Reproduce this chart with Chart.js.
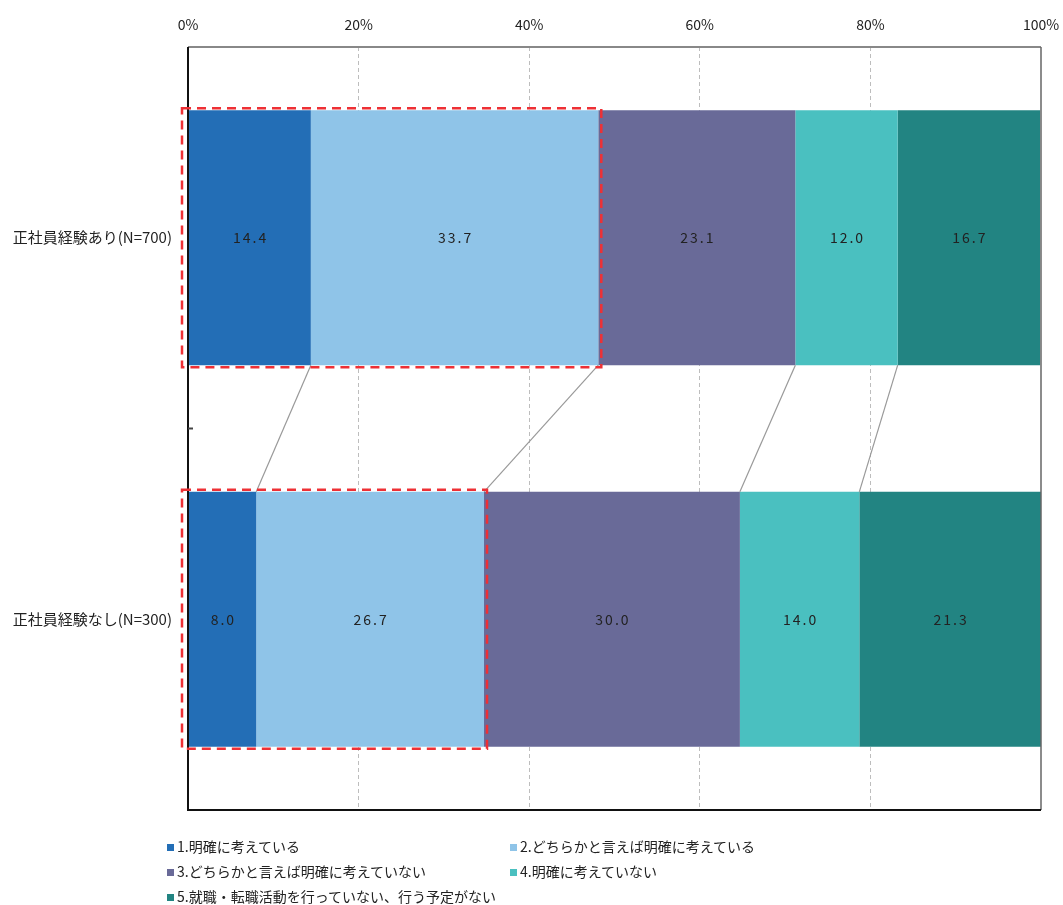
<!DOCTYPE html>
<html>
<head>
<meta charset="utf-8">
<script src="https://cdn.jsdelivr.net/npm/chart.js@4"></script>
<style>
  body { margin: 0; background: #fff; }
  #wrap { position: relative; width: 1063px; height: 905px; }
  #legend { position: absolute; left: 167px; top: 836px; width: 880px;
    font: 14px "Noto Sans CJK JP", sans-serif; color: #222; }
  .item { position: absolute; white-space: nowrap; line-height: 20px; }
  .item i { display: inline-block; width: 7px; height: 7px; margin-right: 3px; vertical-align: 1px; }
</style>
</head>
<body>
<div id="wrap">
  <canvas id="chart" width="1063" height="905"></canvas>
  <div id="legend"></div>
</div>
<script>
// data
const categories = ['正社員経験あり(N=700)', '正社員経験なし(N=300)'];
const seriesNames = [
  '1.明確に考えている',
  '2.どちらかと言えば明確に考えている',
  '3.どちらかと言えば明確に考えていない',
  '4.明確に考えていない',
  '5.就職・転職活動を行っていない、行う予定がない'
];
const clearYes = [14.4, 8.0];
const ratherYes = [33.7, 26.7];
const ratherNo = [23.1, 30.0];
const clearNo = [12.0, 14.0];
const noPlan = [16.7, 21.3];
const xTicks = [0, 20, 40, 60, 80, 100];

const colors = ['#236eb6', '#8fc4e8', '#696a98', '#4ac0c0', '#228482'];
const allSeries = [clearYes, ratherYes, ratherNo, clearNo, noPlan];
const FONT = '"Noto Sans CJK JP", sans-serif';

// legend, 2 columns like the original
const legendPos = [[0, 0], [343, 0], [0, 25], [343, 25], [0, 50]];
const legendEl = document.getElementById('legend');
seriesNames.forEach(function (name, i) {
  const d = document.createElement('div');
  d.className = 'item';
  d.style.left = legendPos[i][0] + 'px';
  d.style.top = legendPos[i][1] + 'px';
  d.innerHTML = '<i style="background:' + colors[i] + '"></i>' + name;
  legendEl.appendChild(d);
});

const overlay = {
  id: 'overlay',
  afterDatasetsDraw(chart) {
    const ctx = chart.ctx;
    const area = chart.chartArea;
    const metas = allSeries.map(function (s, i) { return chart.getDatasetMeta(i); });

    // value labels
    ctx.save();
    ctx.font = '14px ' + FONT;
    ctx.fillStyle = '#222';
    ctx.textAlign = 'center';
    ctx.textBaseline = 'middle';
    if ('letterSpacing' in ctx) ctx.letterSpacing = '2px';
    metas.forEach(function (meta, i) {
      meta.data.forEach(function (bar, j) {
        ctx.fillText(allSeries[i][j].toFixed(1), (bar.x + bar.base) / 2 + 1, bar.y);
      });
    });
    if ('letterSpacing' in ctx) ctx.letterSpacing = '0px';

    // connector lines between bars
    ctx.strokeStyle = '#999';
    ctx.lineWidth = 1.2;
    for (let i = 0; i < 4; i++) {
      const a = metas[i].data[0], b = metas[i].data[1];
      ctx.beginPath();
      ctx.moveTo(a.x, a.y + a.height / 2);
      ctx.lineTo(b.x, b.y - b.height / 2);
      ctx.stroke();
    }

    // frame
    ctx.lineWidth = 2;
    ctx.strokeStyle = '#888';
    ctx.beginPath(); ctx.moveTo(area.left, area.top); ctx.lineTo(area.right, area.top); ctx.stroke();
    ctx.strokeStyle = '#666';
    ctx.lineWidth = 1.5;
    ctx.beginPath(); ctx.moveTo(area.right, area.top); ctx.lineTo(area.right, area.bottom); ctx.stroke();
    ctx.strokeStyle = '#111';
    ctx.lineWidth = 2;
    ctx.beginPath();
    ctx.moveTo(area.left, area.top); ctx.lineTo(area.left, area.bottom); ctx.lineTo(area.right, area.bottom);
    ctx.stroke();
    // middle tick
    const midY = (area.top + area.bottom) / 2;
    ctx.strokeStyle = '#444';
    ctx.beginPath(); ctx.moveTo(area.left, midY); ctx.lineTo(area.left + 5, midY); ctx.stroke();

    // red dashed boxes around series 1+2
    ctx.strokeStyle = '#ee3035';
    ctx.lineWidth = 2.5;
    ctx.setLineDash([9, 6]);
    metas[1].data.forEach(function (bar) {
      const top = bar.y - bar.height / 2 - 2;
      const h = bar.height + 4;
      ctx.strokeRect(area.left - 6, top, bar.x + 3 - (area.left - 6), h);
    });
    ctx.restore();
  }
};

new Chart(document.getElementById('chart'), {
  type: 'bar',
  data: {
    labels: categories,
    datasets: allSeries.map(function (s, i) {
      return {
        label: seriesNames[i],
        data: s,
        backgroundColor: colors[i],
        borderWidth: 0,
        barPercentage: 0.668,
        categoryPercentage: 1
      };
    })
  },
  options: {
    indexAxis: 'y',
    responsive: false,
    animation: false,
    layout: { padding: { top: 0, right: 22, bottom: 95, left: 0 } },
    plugins: { legend: { display: false }, tooltip: { enabled: false } },
    scales: {
      x: {
        position: 'top',
        stacked: true,
        min: 0,
        max: 100,
        afterBuildTicks(scale) { scale.ticks = xTicks.map(function (v) { return { value: v }; }); },
        afterFit(scale) {
          scale.height = 47;
          scale.paddingLeft = 0;
          scale.paddingRight = 0;
        },
        ticks: {
          padding: 14,
          color: '#222',
          font: { family: FONT, size: 14 },
          callback: function (v) { return v + '%'; }
        },
        grid: {
          drawTicks: false,
          color: function (c) { return (c.tick && (c.tick.value === 0 || c.tick.value === 100)) ? 'rgba(0,0,0,0)' : '#bdbdbd'; },
          lineWidth: 1
        },
        border: { display: false, dash: [4, 3] }
      },
      y: {
        stacked: true,
        afterFit(scale) { scale.width = 188; },
        ticks: {
          padding: 16,
          color: '#222',
          font: { family: FONT, size: 15 }
        },
        grid: { display: false, drawTicks: false },
        border: { display: false }
      }
    }
  },
  plugins: [overlay]
});
</script>
</body>
</html>
